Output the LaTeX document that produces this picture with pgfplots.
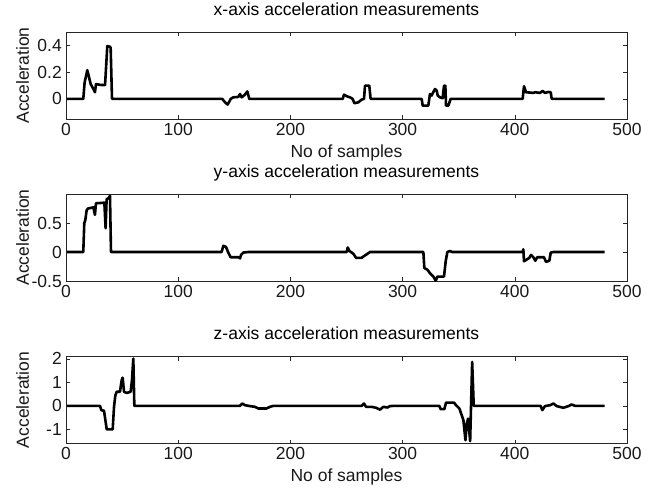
\documentclass[border=0pt]{standalone}
\usepackage{fontspec}
\setmainfont{Liberation Sans}
\usepackage{pgfplots}
\pgfplotsset{compat=1.18}

\newcommand{\fs}{\fontsize{17.5bp}{21bp}\selectfont}

\pgfplotsset{
  accel/.style={
    scale only axis,
    width=561bp, height=87bp,
    anchor=south west,
    xmin=0, xmax=500,
    xtick={0,100,200,300,400,500},
    tick align=inside,
    tick pos=both,
    major tick length=4bp,
    axis line style={line width=0.8bp, black!85},
    every tick/.style={black!85, line width=0.6bp},
    /pgf/number format/assume math mode=true,
    tick label style={font=\fs, black!90},
    xticklabel style={anchor=base, inner sep=0pt, yshift=-16bp},
    yticklabel style={anchor=east, inner sep=0pt, xshift=-4bp},
    label style={font=\fs, black!90},
    ylabel={Acceleration},
    ylabel style={at={(axis description cs:-0.066,0.5)}, anchor=base},
    xlabel style={at={(axis description cs:0.5,-0.437)}, anchor=base},
    title style={font=\fs, at={(axis description cs:0.5,1.126)}, anchor=base},
  },
  sig/.style={black, line width=2.6bp, mark=none, line join=round},
}

\begin{document}
\begin{tikzpicture}
\useasboundingbox (0,0) rectangle (657bp,-491bp);

% x-axis
\begin{axis}[accel, at={(66bp,-119bp)},
  ymin=-0.15, ymax=0.5, ytick={0,0.2,0.4},
  title={x-axis acceleration measurements},
  xlabel={No of samples}]
\addplot[sig] coordinates {
(1,0) (15.4,0) (16.6,0.123) (19,0.215) (22,0.111) (24.4,0.074) (25.8,0.05) (26.7,0.111)
(30.3,0.105) (34.8,0.103) (36.8,0.395) (39.2,0.39) (39.8,0.383) (41,0)
(139.3,0) (141.7,-0.025) (144.1,-0.042) (146.8,0) (149.1,0.012) (153.6,0.015)
(155.1,0.037) (156.6,0.012) (159.5,0.032) (161.6,0.056) (163.4,0)
(246.6,0) (247.8,0.032) (250.2,0.02) (253.1,0.012) (255.5,0) (257,-0.032)
(260.6,-0.025) (263.5,-0.005) (265.6,0) (266.5,0.099) (270.3,0.099) (271.5,0)
(317,0) (317.9,-0.05) (322.9,-0.05) (324.4,0.037) (325.9,0.025) (326.5,0.037)
(328.9,0.074) (330.4,0.062) (331.3,0.025) (333.3,0.012) (335.7,0.005) (336.9,0.099)
(338.1,0.099) (338.7,-0.05) (340.8,-0.05) (342.8,0)
(407,0) (408.2,0.095) (410,0.05) (416.5,0.045) (418,0.05) (422.5,0.045) (424.8,0.06)
(426.9,0.045) (429.9,0.052) (432,0.05) (432.9,0)
(480,0)
};
\end{axis}

% y-axis
\begin{axis}[accel, at={(66bp,-281bp)},
  ymin=-0.5, ymax=1, ytick={-0.5,0,0.5},
  title={y-axis acceleration measurements}]
\addplot[sig] coordinates {
(1,0) (15.4,0) (16.3,0.5) (17.2,0.55) (18.4,0.72) (19.6,0.75) (24.4,0.77) (25.8,0.64)
(26.7,0.84) (34.2,0.85) (35.3,0.41) (36.2,0.91) (38,0.93) (39.2,0.97) (40.1,0)
(138.7,0) (140.2,0.106) (142.6,0.088) (144.6,-0.01) (146.7,-0.09) (153.6,-0.09)
(155.1,-0.11) (156,-0.05) (158,-0.01) (162.5,0)
(250.2,0) (251.1,0.077) (252.6,0.018) (256.1,-0.03) (258.5,-0.1) (263.5,-0.1)
(265.6,-0.07) (268,-0.04) (271,0)
(318.5,0) (319.4,-0.277) (322.1,-0.306) (324.4,-0.365) (327.4,-0.424) (329.5,-0.495)
(331,-0.424) (336.9,-0.424) (338.4,-0.16) (339.9,0) (342.3,0.018) (344,0)
(407,0) (407.6,0.047) (408.2,-0.16) (410.6,-0.13) (413,-0.1) (414.5,-0.05) (416.5,-0.09)
(418.3,-0.15) (420,-0.09) (426,-0.09) (427.8,-0.17) (430.8,-0.15) (432,-0.01) (434.3,0)
(480,0)
};
\end{axis}

% z-axis
\begin{axis}[accel, at={(66bp,-443.5bp)},
  ymin=-1.6, ymax=2.1, ytick={-1,0,1,2},
  title={z-axis acceleration measurements},
  xlabel={No of samples}]
\addplot[sig] coordinates {
(1,0) (30.3,0) (31.5,-0.18) (33.9,-0.21) (35.1,-0.61) (36.3,-1.0) (41.6,-1.0)
(42.8,-0.04) (44,0.45) (45.2,0.6) (48.1,0.6) (49.6,1.09) (50.5,1.2) (51.7,0.6)
(54.1,0.55) (57.6,0.6) (58.8,1.09) (60,2.01) (60.9,0)
(155,0) (157.1,0.1) (159.5,0.03) (164,-0.01) (168.4,-0.04) (171.4,-0.11) (178.8,-0.11)
(181.8,-0.04) (184.8,0)
(263.5,0) (265.6,0.1) (267.4,-0.04) (272.5,-0.04) (276.3,-0.08) (279.9,-0.16)
(282.9,-0.04) (286.4,-0.07) (288.8,-0.01) (291.8,0)
(332.7,0) (333.9,-0.14) (337.2,-0.14) (338.7,0.14) (345.8,0.14) (347.6,0.03)
(350.6,-0.11) (352.7,-0.4) (354.2,-0.61) (356,-1.46) (357.2,-0.75) (358.4,-0.54)
(360.2,-1.5) (362,1.87) (363.4,0)
(423,0) (424.5,-0.18) (426.9,-0.01) (431.4,0.03) (434.4,0.1) (437.4,-0.01)
(443.3,-0.08) (447.8,-0.01) (450.7,0.06) (453.7,0)
(480,0)
};
\end{axis}
\end{tikzpicture}
\end{document}
